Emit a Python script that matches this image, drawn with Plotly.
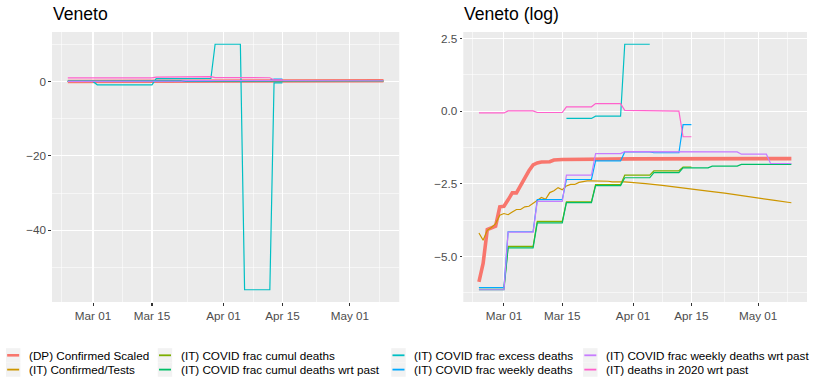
import numpy as np
import pandas as pd
import plotly.graph_objects as go

# ---------------- data ----------------
series_names = [
    "(DP) Confirmed Scaled",
    "(IT) Confirmed/Tests",
    "(IT) COVID frac cumul deaths",
    "(IT) COVID frac cumul deaths wrt past",
    "(IT) COVID frac excess deaths",
    "(IT) COVID frac weekly deaths",
    "(IT) COVID frac weekly deaths wrt past",
    "(IT) deaths in 2020 wrt past",
]
series_colors = ["#F8766D", "#CD9600", "#7CAE00", "#00BE67",
                 "#00BFC4", "#00A9FF", "#C77CFF", "#FF61CC"]

dp_conf_dates = ["2020-02-24", "2020-02-25", "2020-02-26", "2020-02-27", "2020-02-28",
                 "2020-02-29", "2020-03-01", "2020-03-02", "2020-03-03", "2020-03-04",
                 "2020-03-05", "2020-03-06", "2020-03-07", "2020-03-08", "2020-03-09",
                 "2020-03-10", "2020-03-11", "2020-03-12", "2020-03-13", "2020-03-14",
                 "2020-03-15", "2020-04-01", "2020-05-09"]
dp_conf_vals = [0.00282, 0.00530, 0.0171, 0.0180, 0.0191,
                0.0373, 0.0380, 0.0474, 0.0602, 0.0602,
                0.0781, 0.1003, 0.1287, 0.1572, 0.1686,
                0.1738, 0.1738, 0.1755, 0.1864, 0.1901,
                0.1901, 0.1940, 0.1959]

conf_tests_dates = ["2020-02-24", "2020-02-25", "2020-02-26", "2020-02-27", "2020-02-28",
                    "2020-02-29", "2020-03-01", "2020-03-02", "2020-03-03", "2020-03-04",
                    "2020-03-05", "2020-03-06", "2020-03-07", "2020-03-08", "2020-03-09",
                    "2020-03-10", "2020-03-11", "2020-03-12", "2020-03-13", "2020-03-14",
                    "2020-03-15", "2020-03-16", "2020-03-17", "2020-03-18", "2020-03-19",
                    "2020-03-20", "2020-03-21", "2020-03-22", "2020-03-23", "2020-03-24",
                    "2020-03-25", "2020-03-26", "2020-03-27", "2020-03-28", "2020-03-29",
                    "2020-03-30", "2020-03-31", "2020-04-01", "2020-04-04", "2020-04-08",
                    "2020-04-11", "2020-04-15", "2020-04-19", "2020-04-23", "2020-04-27",
                    "2020-05-01", "2020-05-05", "2020-05-09"]
conf_tests_vals = [0.01515, 0.01180, 0.01657, 0.0183, 0.0209,
                   0.0279, 0.0296, 0.0284, 0.0311, 0.0340,
                   0.0340, 0.0373, 0.0380, 0.0424, 0.0469,
                   0.0513, 0.0483, 0.0608, 0.0646, 0.0721,
                   0.0672, 0.0765, 0.0805, 0.0805, 0.0863,
                   0.0889, 0.0907, 0.0907, 0.0907, 0.0898,
                   0.0907, 0.0898, 0.0880, 0.0889, 0.0880,
                   0.0880, 0.0872, 0.0863, 0.0829, 0.0781,
                   0.0735, 0.0686, 0.0639, 0.0596, 0.0545,
                   0.0503, 0.0464, 0.0429]

cumul_dates = ["2020-02-24", "2020-03-01", "2020-03-02", "2020-03-08", "2020-03-09",
               "2020-03-15", "2020-03-16", "2020-03-22", "2020-03-23", "2020-03-29",
               "2020-03-30", "2020-04-05", "2020-04-06", "2020-04-12", "2020-04-13",
               "2020-04-15"]
cumul_vals = [0.00231, 0.00231, 0.00956, 0.00956, 0.0226,
              0.0226, 0.0442, 0.0442, 0.0797, 0.0797,
              0.1108, 0.1108, 0.1287, 0.1287, 0.1466,
              0.1466]

cumul_past_dates = ["2020-02-24", "2020-03-01", "2020-03-02", "2020-03-08", "2020-03-09",
                    "2020-03-15", "2020-03-16", "2020-03-22", "2020-03-23", "2020-03-29",
                    "2020-03-30", "2020-04-05", "2020-04-06", "2020-04-12", "2020-04-13",
                    "2020-04-19", "2020-04-20", "2020-04-26", "2020-04-27", "2020-05-09"]
cumul_past_vals = [0.00215, 0.00215, 0.00910, 0.00910, 0.0215,
                   0.0215, 0.0429, 0.0429, 0.0773, 0.0773,
                   0.1013, 0.1013, 0.1212, 0.1212, 0.1423,
                   0.1423, 0.1511, 0.1511, 0.1604, 0.1604]

excess_dates = ["2020-02-24", "2020-03-01", "2020-03-02", "2020-03-15", "2020-03-16",
                "2020-03-22", "2020-03-23", "2020-03-29", "2020-03-30", "2020-04-05",
                "2020-04-06", "2020-04-12", "2020-04-13", "2020-04-15"]
excess_vals = [0.0, 0.0, -0.9, -0.9, 0.779,
               0.779, 0.844, 0.844, 10.0, 10.0,
               -56.0, -56.0, -0.4, -0.4]

weekly_dates = ["2020-02-24", "2020-03-01", "2020-03-02", "2020-03-08", "2020-03-09",
                "2020-03-15", "2020-03-16", "2020-03-22", "2020-03-23", "2020-03-29",
                "2020-03-30", "2020-04-05", "2020-04-06", "2020-04-12", "2020-04-13",
                "2020-04-15"]
weekly_vals = [0.00231, 0.00231, 0.0158, 0.0158, 0.0478,
               0.0478, 0.0954, 0.0954, 0.1809, 0.1809,
               0.2466, 0.2466, 0.2393, 0.2393, 0.6313,
               0.6313]

weekly_past_dates = ["2020-02-24", "2020-03-01", "2020-03-02", "2020-03-08", "2020-03-09",
                     "2020-03-15", "2020-03-16", "2020-03-22", "2020-03-23", "2020-03-29",
                     "2020-03-30", "2020-04-05", "2020-04-06", "2020-04-26", "2020-04-27",
                     "2020-05-03", "2020-05-04", "2020-05-09"]
weekly_past_vals = [0.00215, 0.00215, 0.0156, 0.0156, 0.0450,
                    0.0450, 0.1108, 0.1108, 0.2322, 0.2322,
                    0.2491, 0.2491, 0.2466, 0.2466, 0.2276,
                    0.2276, 0.1653, 0.1653]

deaths2020_dates = ["2020-02-24", "2020-03-01", "2020-03-02", "2020-03-08", "2020-03-09",
                    "2020-03-15", "2020-03-16", "2020-03-22", "2020-03-23", "2020-03-29",
                    "2020-03-30", "2020-04-05", "2020-04-06", "2020-04-12", "2020-04-13",
                    "2020-04-15"]
deaths2020_vals = [0.942, 0.942, 1.010, 1.010, 0.956,
                   0.956, 1.162, 1.162, 1.297, 1.297,
                   1.030, 1.030, 1.005, 1.005, 0.415,
                   0.415]

series_dates = [dp_conf_dates, conf_tests_dates, cumul_dates, cumul_past_dates,
                excess_dates, weekly_dates, weekly_past_dates, deaths2020_dates]
series_vals = [dp_conf_vals, conf_tests_vals, cumul_vals, cumul_past_vals,
               excess_vals, weekly_vals, weekly_past_vals, deaths2020_vals]
series_widths = [3.6, 1.2, 1.2, 1.2, 1.2, 1.2, 1.2, 1.2]
legend_widths = [2.6, 1.8, 1.8, 1.8, 1.8, 1.8, 1.8, 1.8]

x_ticks = ["2020-03-01", "2020-03-15", "2020-04-01", "2020-04-15", "2020-05-01"]
x_ticktext = ["Mar 01", "Mar 15", "Apr 01", "Apr 15", "May 01"]
x_minor = ["2020-02-22 12:00", "2020-03-08", "2020-03-23 12:00",
           "2020-04-08", "2020-04-23", "2020-05-08"]
y_lin_ticks = [-40, -20, 0]
y_lin_minor = [-50, -30, -10, 10]
y_log_ticks = [-5.0, -2.5, 0.0, 2.5]
y_log_minor = [-6.25, -3.75, -1.25, 1.25]

panel_titles = ["Veneto", "Veneto (log)"]

# ---------------- figure geometry ----------------
W, H = 814, 380
PL, PR, PT, PB = 52.3, 806.7, 31.7, 301.7      # plot area in px
left_end, right_start = 399.3, 463.3


def fx(px):
    return (px - PL) / (PR - PL)


def fy(py):
    return (PB - py) / (PB - PT)


FONT = "Liberation Sans, Arial, Helvetica, sans-serif"

fig = go.Figure()

all_lin, all_log, all_dates = [], [], []
for name, col, d, v, w in zip(series_names, series_colors, series_dates, series_vals, series_widths):
    dates = pd.to_datetime(d)
    vals = np.array(v, dtype=float)
    with np.errstate(divide="ignore", invalid="ignore"):
        logv = np.where(vals > 0, np.log(np.where(vals > 0, vals, 1.0)), np.nan)
    all_lin.extend(vals.tolist())
    all_log.extend(logv[~np.isnan(logv)].tolist())
    all_dates.extend(list(dates))
    fig.add_trace(go.Scatter(x=dates, y=vals, mode="lines", name=name,
                             line=dict(color=col, width=w), showlegend=False,
                             xaxis="x", yaxis="y", hoverinfo="skip"))
    fig.add_trace(go.Scatter(x=dates, y=logv, mode="lines", name=name,
                             line=dict(color=col, width=w), showlegend=False,
                             connectgaps=False, xaxis="x2", yaxis="y2", hoverinfo="skip"))


def expand(lo, hi, f=0.05):
    pad = (hi - lo) * f
    return [lo - pad, hi + pad]


dmin, dmax = min(all_dates), max(all_dates)
dpad = (dmax - dmin) * 0.05
x_range = [dmin - dpad, dmax + dpad]
y_lin_range = expand(min(all_lin), max(all_lin))
y_log_range = expand(min(all_log), max(all_log))

axis_style = dict(
    showgrid=True, gridcolor="white", gridwidth=1.1, zeroline=False, showline=False,
    ticks="outside", ticklen=2.7, tickwidth=1.07, tickcolor="#333333",
    tickfont=dict(family=FONT, size=11.7, color="#4D4D4D"),
)

xcommon = dict(axis_style, type="date", range=x_range, tickmode="array",
               tickvals=x_ticks, ticktext=x_ticktext,
               minor=dict(tickmode="array", tickvals=x_minor, showgrid=True,
                          gridcolor="white", gridwidth=0.55, ticks=""))

fig.update_layout(
    width=W, height=H,
    margin=dict(l=PL, r=W - PR, t=PT, b=H - PB, autoexpand=False, pad=0),
    paper_bgcolor="white", plot_bgcolor="#EBEBEB",
    showlegend=False,
    font=dict(family=FONT, color="black"),
    xaxis=dict(xcommon, domain=[0, fx(left_end)], anchor="y"),
    xaxis2=dict(xcommon, domain=[fx(right_start), 1], anchor="y2"),
    yaxis=dict(axis_style, range=y_lin_range, tickmode="array", tickvals=y_lin_ticks,
               minor=dict(tickmode="array", tickvals=y_lin_minor, showgrid=True,
                          gridcolor="white", gridwidth=0.55, ticks=""),
               anchor="x"),
    yaxis2=dict(axis_style, range=y_log_range, tickmode="array", tickvals=y_log_ticks,
                tickformat=".1f",
                minor=dict(tickmode="array", tickvals=y_log_minor, showgrid=True,
                           gridcolor="white", gridwidth=0.55, ticks=""),
                anchor="x2"),
)

# panel titles
for title, xpx in zip(panel_titles, [PL, right_start]):
    fig.add_annotation(text=title, xref="paper", yref="paper", x=fx(xpx), y=fy(14.0),
                       xanchor="left", yanchor="middle", showarrow=False, borderpad=0,
                       font=dict(family=FONT, size=17.6, color="black"))

# legend (ggplot style: 4 columns x 2 rows, filled column-wise)
col_text_x = [28.3, 180.0, 413.3, 605.0]
row_center_y = [355.0, 369.3]
row_h = 14.3
for i, (name, col, lw) in enumerate(zip(series_names, series_colors, legend_widths)):
    c, r = divmod(i, 2)
    tx, cy = col_text_x[c], row_center_y[r]
    fig.add_shape(type="rect", xref="paper", yref="paper",
                  x0=fx(tx - 22.0), x1=fx(tx - 7.6),
                  y0=fy(cy - row_h / 2), y1=fy(cy + row_h / 2),
                  fillcolor="#F2F2F2", line=dict(width=0), layer="below")
    fig.add_shape(type="line", xref="paper", yref="paper",
                  x0=fx(tx - 20.8), x1=fx(tx - 8.8), y0=fy(cy), y1=fy(cy),
                  line=dict(color=col, width=lw))
    fig.add_annotation(text=name, xref="paper", yref="paper", x=fx(tx), y=fy(cy),
                       xanchor="left", yanchor="middle", showarrow=False, borderpad=0,
                       font=dict(family=FONT, size=11.7, color="black"))

fig.write_html("out.html",
               config={"displayModeBar": False, "staticPlot": True},
               post_script="document.body.style.margin='0';document.body.style.overflow='hidden';")
